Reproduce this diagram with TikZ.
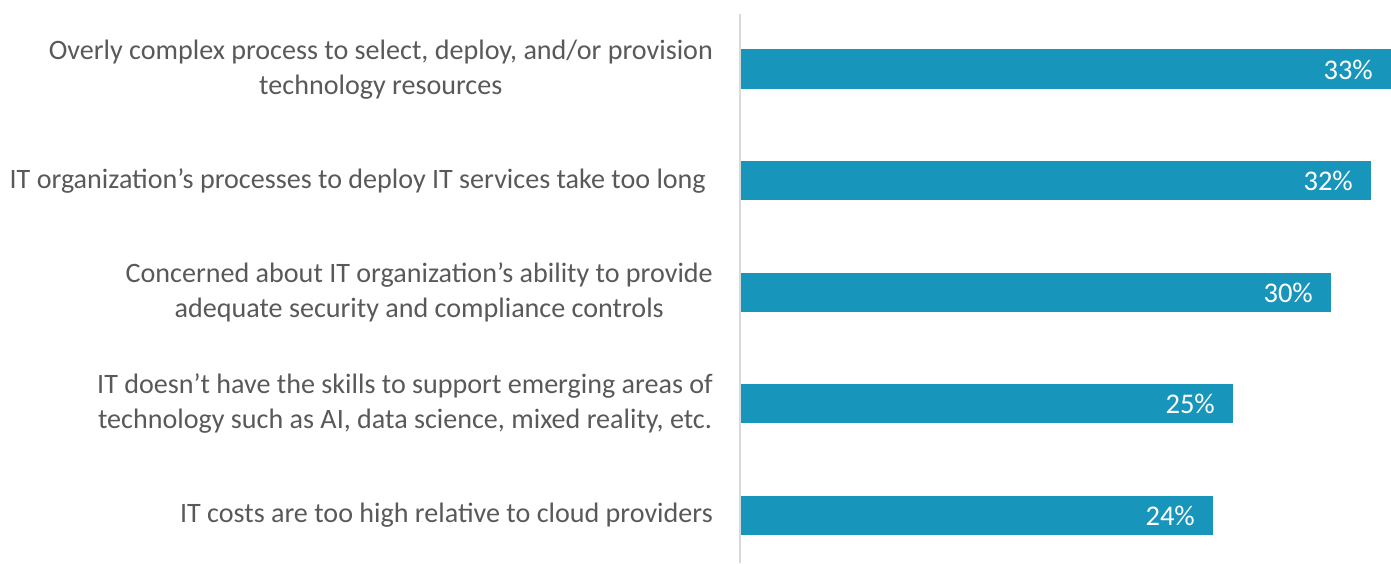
\documentclass[tikz,border=0pt]{standalone}
\usepackage{fontspec}
\setmainfont{Carlito}
\definecolor{barblue}{HTML}{1795BA}
\definecolor{labelgray}{HTML}{595959}
\definecolor{axisgray}{HTML}{D9D9D9}
\begin{document}
\begin{tikzpicture}[x=1pt,y=1pt,
  bar/.style={fill=barblue,draw=none},
  cat/.style={anchor=east,align=center,text=labelgray,font=\fontsize{28.1}{35}\selectfont,inner sep=0pt},
  pct/.style={anchor=east,text=white,font=\fontsize{28.5}{30}\selectfont,inner sep=0pt}]
\useasboundingbox (0,0) rectangle (1391,563);
\draw[axisgray,line width=2pt] (740,549) -- (740,0);
\path[bar] (741,514) rectangle (1391,474) node (b1) {};
\path[bar] (741,402) rectangle (1371,363) node (b2) {};
\path[bar] (741,290) rectangle (1331,251) node (b3) {};
\path[bar] (741,179) rectangle (1233,140) node (b4) {};
\path[bar] (741,67) rectangle (1213,28) node (b5) {};
\node[pct] (p1) at (1373,493.5) {33\%};
\node[pct] (p2) at (1353,382) {32\%};
\node[pct] (p3) at (1313,270.5) {30\%};
\node[pct] (p4) at (1215,159.5) {25\%};
\node[pct] (p5) at (1195,47.5) {24\%};
\node[cat] (c1) at (713,493.5) {Overly complex process to select, deploy, and/or provision\\technology resources};
\node[cat] (c2) at (706,382) {IT organization’s processes to deploy IT services take too long};
\node[cat] (c3) at (713,270.5) {Concerned about IT organization’s ability to provide\\adequate security and compliance controls};
\node[cat] (c4) at (713,159.5) {IT doesn’t have the skills to support emerging areas of\\technology such as AI, data science, mixed reality, etc.};
\node[cat] (c5) at (713,47.5) {IT costs are too high relative to cloud providers};
\end{tikzpicture}
\end{document}
